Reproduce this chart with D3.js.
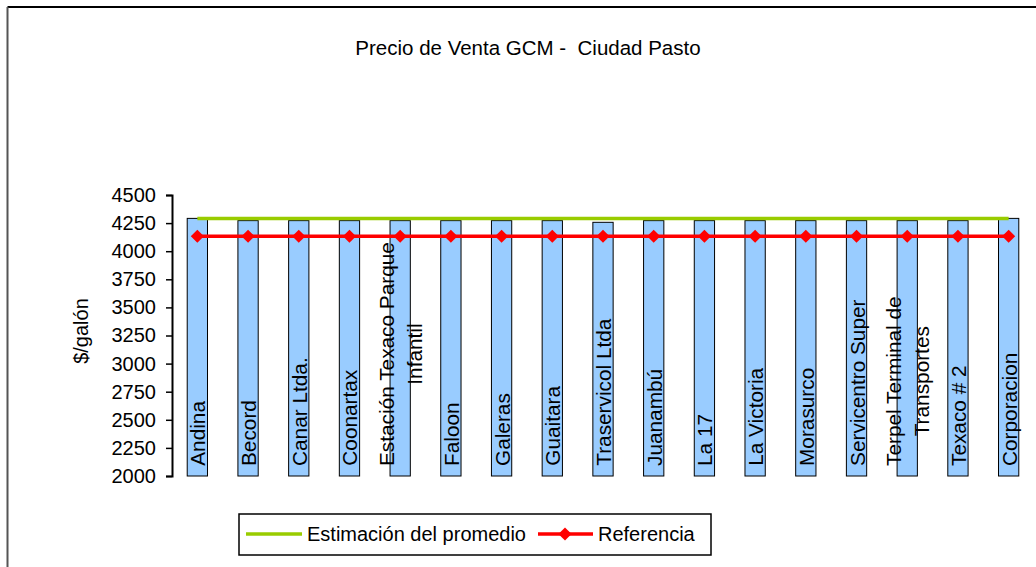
<!DOCTYPE html>
<html>
<head>
<meta charset="utf-8">
<style>
  body {
    margin: 0px;
    background: #fff
  }
  text {
    font-family: "Liberation Sans", Arial, sans-serif;
    fill: #000
  }
</style>
<script type="text/javascript" src="https://d3js.org/d3.v7.min.js"></script>
</head>
<body>
<svg id="chart"></svg>
<script type="text/javascript">
let width = 1036,
    height = 567

// categories (use \n where the label wraps)
let categories = ['Andina', 'Becord', 'Canar Ltda.', 'Coonartax', 'Estación Texaco Parque\nInfantil',
  'Faloon', 'Galeras', 'Guaitara', 'Traservicol Ltda', 'Juanambú', 'La 17', 'La Victoria',
  'Morasurco', 'Servicentro Super', 'Terpel Terminal de\nTransportes', 'Texaco # 2', 'Corporacion']

let precio = [4292, 4272, 4272, 4272, 4272, 4272, 4272, 4272, 4257, 4272, 4272, 4272,
  4272, 4272, 4272, 4272, 4292]

let promedio = [4292, 4292, 4292, 4292, 4292, 4292, 4292, 4292, 4292, 4292, 4292, 4292,
  4292, 4292, 4292, 4292, 4292]

let referencia = [4133, 4133, 4133, 4133, 4133, 4133, 4133, 4133, 4133, 4133, 4133, 4133,
  4133, 4133, 4133, 4133, 4133]

let yTicks = [2000, 2250, 2500, 2750, 3000, 3250, 3500, 3750, 4000, 4250, 4500]

let svg = d3.select('#chart')
  .attr('width', width)
  .attr('height', height)

// outer chart frame (cropped on right and bottom)
svg.append('line').attr('x1', 7.5).attr('x2', width).attr('y1', 7).attr('y2', 7)
  .attr('stroke', '#000').attr('stroke-width', 2)
svg.append('line').attr('x1', 7.5).attr('x2', 7.5).attr('y1', 7).attr('y2', height)
  .attr('stroke', '#555').attr('stroke-width', 2)

svg.append('text')
  .attr('x', 528).attr('y', 55)
  .attr('text-anchor', 'middle')
  .style('font-size', '20.5px')
  .style('white-space', 'pre')
  .text('Precio de Venta GCM -  Ciudad Pasto')

let x = d3.scaleBand()
  .domain(categories)
  .range([172, 1034])
  .paddingInner(0.6)
  .paddingOuter(0.3)

let y = d3.scaleLinear()
  .domain([2000, 4500])
  .range([476, 195])

let cx = function(d) { return x(d) + x.bandwidth() / 2 }

// bars
svg.append('g').selectAll('rect')
  .data(categories)
  .enter()
  .append('rect')
  .attr('x', function(d) { return x(d) })
  .attr('width', x.bandwidth())
  .attr('y', function(d, i) { return y(precio[i]) })
  .attr('height', function(d, i) { return y(2000) - y(precio[i]) })
  .attr('fill', '#99ccff')
  .attr('stroke', '#000')
  .attr('stroke-width', 1)

// y axis
let yAxis = svg.append('g')
  .attr('transform', 'translate(172,0)')
  .call(d3.axisLeft(y).tickValues(yTicks).tickSize(6).tickPadding(10).tickFormat(d3.format('d')))
yAxis.select('.domain').attr('stroke-width', 2)
yAxis.selectAll('.tick line').attr('stroke-width', 1.5)
yAxis.selectAll('text').style('font-size', '20px').attr('font-family', null)

svg.append('text')
  .attr('transform', 'translate(88,331) rotate(-90)')
  .attr('text-anchor', 'middle')
  .style('font-size', '20px')
  .text('$/galón')

// lines
let line = d3.line()
  .x(function(d, i) { return cx(categories[i]) })
  .y(function(d) { return y(d) })

svg.append('path')
  .datum(promedio)
  .attr('d', line)
  .attr('fill', 'none')
  .attr('stroke', '#99cc00')
  .attr('stroke-width', 3.5)

svg.append('path')
  .datum(referencia)
  .attr('d', line)
  .attr('fill', 'none')
  .attr('stroke', '#ff0000')
  .attr('stroke-width', 3.5)

let diamond = d3.symbol().type(d3.symbolDiamond2).size(110)
svg.append('g').selectAll('path')
  .data(referencia)
  .enter()
  .append('path')
  .attr('d', diamond)
  .attr('transform', function(d, i) { return 'translate(' + cx(categories[i]) + ',' + y(d) + ')' })
  .attr('fill', '#ff0000')

// category labels written inside the bars, reading upward
let labels = svg.append('g').selectAll('g')
  .data(categories)
  .enter()
  .append('g')
  .attr('transform', function(d) { return 'translate(' + cx(d) + ',466) rotate(-90)' })

labels.each(function(d) {
  let g = d3.select(this)
  let parts = d.split('\n')
  let t = g.append('text')
    .style('font-size', '20.8px')
    .attr('text-anchor', 'middle')
    .attr('dominant-baseline', 'central')
  parts.forEach(function(p, k) {
    t.append('tspan')
      .attr('x', 0)
      .attr('y', (k - (parts.length - 1) / 2) * 28.5)
      .text(p)
  })
  let w = t.node().getBBox().width
  t.selectAll('tspan').attr('x', w / 2)
})

// legend
let lg = svg.append('g')
lg.append('rect')
  .attr('x', 239).attr('y', 514)
  .attr('width', 472).attr('height', 41)
  .attr('fill', '#fff').attr('stroke', '#000').attr('stroke-width', 1.5)
lg.append('line').attr('x1', 246).attr('x2', 302).attr('y1', 534).attr('y2', 534)
  .attr('stroke', '#99cc00').attr('stroke-width', 3.5)
lg.append('text').attr('x', 307).attr('y', 541).style('font-size', '20px')
  .text('Estimación del promedio')
lg.append('line').attr('x1', 538).attr('x2', 593).attr('y1', 534).attr('y2', 534)
  .attr('stroke', '#ff0000').attr('stroke-width', 3.5)
lg.append('path').attr('d', diamond).attr('transform', 'translate(565,534)')
  .attr('fill', '#ff0000')
lg.append('text').attr('x', 598).attr('y', 541).style('font-size', '20px')
  .text('Referencia')
</script>
</body>
</html>
